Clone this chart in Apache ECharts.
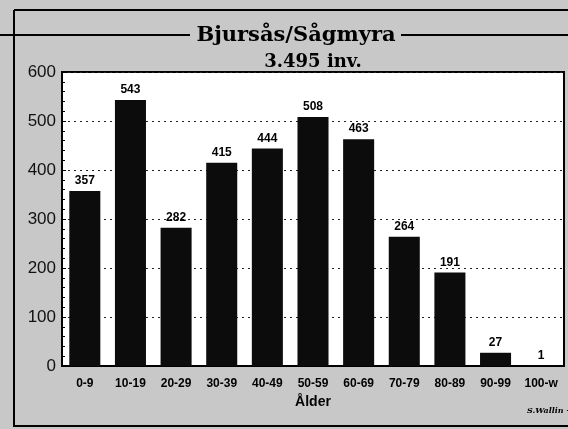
<!DOCTYPE html>
<html>
<head>
<meta charset="utf-8">
<script src="https://cdn.jsdelivr.net/npm/echarts@6/dist/echarts.min.js"></script>
<style>
html,body{margin:0;padding:0;background:#c8c8c8;}
#c{width:568px;height:429px;}
</style>
</head>
<body>
<div id="c"></div>
<script>
var categories = ['0-9','10-19','20-29','30-39','40-49','50-59','60-69','70-79','80-89','90-99','100-w'];
var values = [357, 543, 282, 415, 444, 508, 463, 264, 191, 27, 1];
var yTicks = [0, 100, 200, 300, 400, 500, 600];
var titleText = 'Bjursås/Sågmyra';
var subtitleText = '3.495 inv.';
var xName = 'Ålder';
var signature = 'S.Wallin -';

var chart = echarts.init(document.getElementById('c'), null, {renderer:'canvas'});
chart.setOption({
  backgroundColor: '#c8c8c8',
  animation: false,
  title: [
    {text: titleText, left: 291, top: 20, textAlign: 'center',
     textStyle: {fontFamily: 'DejaVu Serif', fontWeight: 'bold', fontSize: 21, color: '#000'}},
    {text: subtitleText, left: 308, top: 48, textAlign: 'center',
     textStyle: {fontFamily: 'DejaVu Serif', fontWeight: 'bold', fontSize: 18, color: '#000'}}
  ],
  grid: {left: 62, top: 72, right: 4, bottom: 63, show: true, backgroundColor: '#fff',
         borderColor: '#000', borderWidth: 2},
  xAxis: {
    type: 'category', data: categories,
    axisLine: {show: true, lineStyle: {color: '#000', width: 2}},
    axisTick: {show: false},
    axisLabel: {interval: 0, margin: 12, fontFamily: 'Liberation Sans, Arial', fontWeight: 'bold', fontSize: 12, color: '#000'},
    name: xName, nameLocation: 'middle', nameGap: 29,
    nameTextStyle: {fontFamily: 'Liberation Sans, Arial', fontWeight: 'bold', fontSize: 14, color: '#000'}
  },
  yAxis: {
    type: 'value', min: yTicks[0], max: yTicks[yTicks.length-1], interval: 100,
    axisLine: {show: true, lineStyle: {color: '#000', width: 2}},
    axisTick: {show: true, inside: true, length: 4, lineStyle: {color: '#000'}},
    minorTick: {show: true, splitNumber: 5, length: 3, lineStyle: {color: '#000'}},
    axisLabel: {margin: 6, fontFamily: 'Liberation Sans, Arial', fontSize: 17, color: '#111'},
    splitLine: {show: true, lineStyle: {color: '#222', type: [2, 4], width: 1}}
  },
  series: [{
    type: 'bar', data: values, barCategoryGap: '32%',
    itemStyle: {color: '#0c0c0c'},
    label: {show: true, position: 'top', distance: 4, fontFamily: 'Liberation Sans, Arial', fontWeight: 'bold', fontSize: 12, color: '#000'},
    z: 3
  }],
  graphic: [
    {type: 'line', shape: {x1: 14, y1: 10, x2: 568, y2: 10}, style: {stroke: '#000', lineWidth: 2}},
    {type: 'line', shape: {x1: 14, y1: 10, x2: 14, y2: 427}, style: {stroke: '#000', lineWidth: 2}},
    {type: 'line', shape: {x1: 14, y1: 426, x2: 568, y2: 426}, style: {stroke: '#000', lineWidth: 2}},
    {type: 'line', shape: {x1: 0, y1: 35, x2: 190, y2: 35}, style: {stroke: '#000', lineWidth: 2}},
    {type: 'line', shape: {x1: 401, y1: 35, x2: 568, y2: 35}, style: {stroke: '#000', lineWidth: 2}},
    {type: 'text', left: 527, top: 407, style: {text: signature, font: 'italic bold 8px DejaVu Serif', fill: '#000'}}
  ]
});
</script>
</body>
</html>
